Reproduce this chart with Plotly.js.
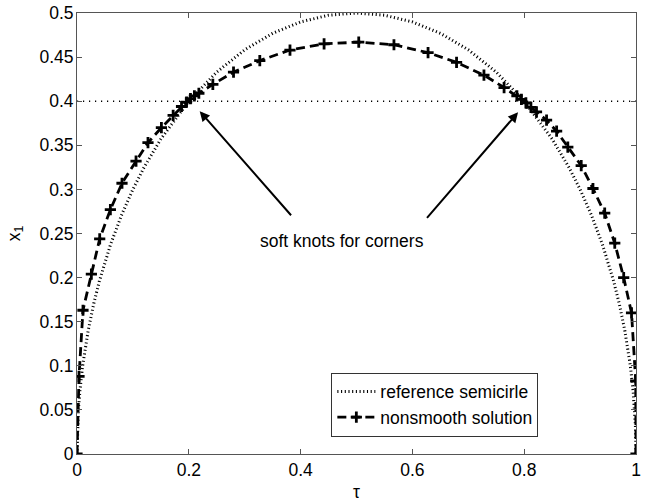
<!DOCTYPE html>
<html>
<head>
<meta charset="utf-8">
<script src="https://cdn.plot.ly/plotly-3.0.1.min.js"></script>
<style>html,body{margin:0;padding:0;background:#fff;}#chart{width:652px;height:504px;}</style>
</head>
<body>
<div id="chart"></div>
<script>
// Reference semicircle
var refX = [0, 0.001, 0.0025, 0.005, 0.01, 0.02, 0.03, 0.04, 0.06, 0.08, 0.1, 0.12, 0.15, 0.2, 0.25, 0.3, 0.35, 0.4, 0.45, 0.5,
            0.55, 0.6, 0.65, 0.7, 0.75, 0.8, 0.85, 0.88, 0.9, 0.92, 0.94, 0.96, 0.97, 0.98, 0.99, 0.995, 0.9975, 0.999, 1];
var refY = [0, 0.0316, 0.0499, 0.0705, 0.0995, 0.14, 0.1706, 0.196, 0.2375, 0.2713, 0.3, 0.325, 0.3571, 0.4, 0.433, 0.4583, 0.477, 0.4899, 0.4975, 0.5,
            0.4975, 0.4899, 0.477, 0.4583, 0.433, 0.4, 0.3571, 0.325, 0.3, 0.2713, 0.2375, 0.196, 0.1706, 0.14, 0.0995, 0.0705, 0.0499, 0.0316, 0];

// Horizontal reference level
var levelX = [0, 1];
var levelY = [0.4, 0.4];

// Nonsmooth solution
var solX = [0, 0.0036, 0.0107, 0.0257, 0.0406, 0.0597, 0.0805, 0.1056, 0.127, 0.151, 0.172, 0.187, 0.196, 0.203, 0.210, 0.218,
            0.243, 0.280, 0.327, 0.381, 0.442, 0.504, 0.567, 0.628, 0.679, 0.728, 0.764, 0.787, 0.795, 0.803, 0.812, 0.822,
            0.840, 0.858, 0.878, 0.902, 0.923, 0.944, 0.962, 0.978, 0.992, 0.9995, 1];
var solY = [0, 0.088, 0.163, 0.204, 0.244, 0.277, 0.307, 0.332, 0.353, 0.370, 0.384, 0.394, 0.399, 0.403, 0.406, 0.409,
            0.419, 0.433, 0.446, 0.458, 0.465, 0.467, 0.464, 0.455, 0.444, 0.4295, 0.4155, 0.406, 0.402, 0.398, 0.393, 0.388,
            0.3785, 0.366, 0.348, 0.327, 0.301, 0.273, 0.239, 0.200, 0.160, 0.083, 0];

// Annotation
var noteText = 'soft knots for corners';
var noteX = 0.4735, noteY = 0.2415;
var arrowTips = [[0.2195, 0.3887], [0.789, 0.3874]];
var arrowTails = [[0.3853, 0.269], [0.6238, 0.266]];

var xTicks = [0, 0.2, 0.4, 0.6, 0.8, 1];
var xTickText = ['0', '0.2', '0.4', '0.6', '0.8', '1'];
var yTicks = [0, 0.05, 0.1, 0.15, 0.2, 0.25, 0.3, 0.35, 0.4, 0.45, 0.5];
var yTickText = ['0', '0.05', '0.1', '0.15', '0.2', '0.25', '0.3', '0.35', '0.4', '0.45', '0.5'];

var FONT = '"Liberation Sans", Arial, sans-serif';
var FS = 17.5;

var traces = [
  {x: levelX, y: levelY, mode: 'lines', showlegend: false, hoverinfo: 'skip',
   line: {color: '#000', width: 1.5, dash: '1.2px,4.8px'}},
  {x: refX, y: refY, mode: 'lines', name: 'reference semicirle',
   line: {color: '#000', width: 3, dash: '1.1px,2.6px'}},
  {x: solX, y: solY, mode: 'lines+markers', name: 'nonsmooth solution',
   line: {color: '#000', width: 2.8, dash: '9px,5px'},
   marker: {symbol: 'cross-thin', size: 8, color: '#000', line: {color: '#000', width: 2.8}}}
];

var annotations = [{x: noteX, y: noteY, xref: 'x', yref: 'y', text: noteText, showarrow: false,
  font: {family: FONT, size: FS, color: '#000'}}];
for (var i = 0; i < arrowTips.length; i++) {
  annotations.push({x: arrowTips[i][0], y: arrowTips[i][1], ax: arrowTails[i][0], ay: arrowTails[i][1],
    xref: 'x', yref: 'y', axref: 'x', ayref: 'y', text: '', showarrow: true,
    arrowhead: 2, arrowsize: 1, arrowwidth: 2, arrowcolor: '#000', standoff: 0});
}

var axisCommon = {
  showgrid: false, zeroline: false, showline: true, mirror: 'ticks', linecolor: '#555', linewidth: 1,
  ticks: 'inside', ticklen: 5, tickcolor: '#555', tickwidth: 1,
  tickfont: {family: FONT, size: FS, color: '#000'}
};

var layout = {
  width: 652, height: 504,
  margin: {l: 77, r: 16, t: 13, b: 50},
  paper_bgcolor: '#fff', plot_bgcolor: '#fff',
  font: {family: FONT, size: FS, color: '#000'},
  xaxis: Object.assign({}, axisCommon, {range: [0, 1], tickvals: xTicks, ticktext: xTickText,
    title: {text: 'τ', font: {family: FONT, size: FS, color: '#000'}, standoff: 6}}),
  yaxis: Object.assign({}, axisCommon, {range: [0, 0.5], tickvals: yTicks, ticktext: yTickText,
    ticklabelstandoff: -1,
    title: {text: 'x<sub>1</sub>', font: {family: FONT, size: FS, color: '#000'}, standoff: 14}}),
  legend: {x: 0.455, y: 0.1848, xanchor: 'left', yanchor: 'top', bgcolor: '#fff',
    bordercolor: '#333', borderwidth: 1, font: {family: FONT, size: FS, color: '#000'},
    tracegroupgap: 0, itemwidth: 38},
  annotations: annotations,
  showlegend: true
};

Plotly.newPlot('chart', traces, layout, {displayModeBar: false, staticPlot: true});
</script>
</body>
</html>
